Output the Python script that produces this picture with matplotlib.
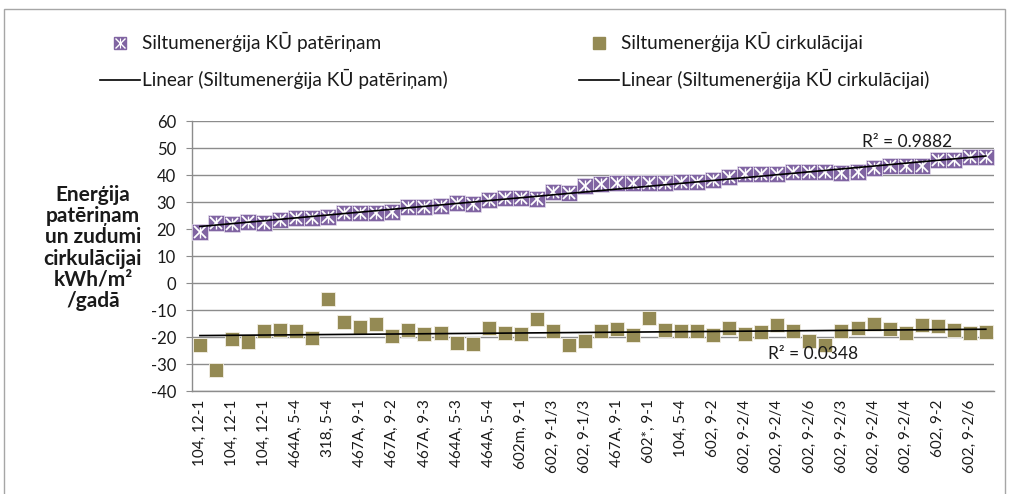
import matplotlib.pyplot as plt
import numpy as np
from matplotlib.lines import Line2D
from matplotlib.patches import Rectangle

plt.rcParams['font.family'] = ['Lato', 'DejaVu Sans']
plt.rcParams['axes.unicode_minus'] = False

# category labels (only every second category is labelled on the axis)
tick_labels = ['104, 12-1', '104, 12-1', '104, 12-1', '464A, 5-4', '318, 5-4',
               '467A, 9-1', '467A, 9-2', '467A, 9-3', '464A, 5-3', '464A, 5-4',
               '602m, 9-1', '602, 9-1/3', '602, 9-1/3', '467A, 9-1', '602*, 9-1',
               '104, 5-4', '602, 9-2', '602, 9-2/4', '602, 9-2/4', '602, 9-2/6',
               '602, 9-2/3', '602, 9-2/4', '602, 9-2/4', '602, 9-2', '602, 9-2/6']

# Siltumenergija KU paterinam
consumption = [19.0, 22.1, 21.7, 22.7, 22.3, 23.3, 24.2, 24.2, 24.5, 26.0,
               26.0, 25.8, 26.3, 28.2, 28.2, 28.5, 29.8, 29.1, 30.7, 31.5,
               31.5, 31.2, 33.6, 33.4, 35.9, 36.5, 37.1, 37.1, 37.1, 37.1,
               37.3, 37.3, 38.3, 39.4, 40.2, 40.2, 40.2, 41.1, 41.1, 41.1,
               40.8, 41.1, 42.6, 43.2, 43.2, 43.2, 45.7, 45.4, 46.7, 46.7]

# Siltumenergija KU cirkulacijai
circulation = [-23.1, -32.3, -20.9, -21.7, -17.9, -17.4, -17.8, -20.2, -6.0, -14.3,
               -16.3, -15.3, -19.6, -17.5, -18.8, -18.6, -22.3, -22.7, -16.8, -18.4,
               -18.8, -13.5, -17.8, -23.1, -21.5, -17.8, -17.2, -19.3, -13.1, -17.4,
               -17.8, -17.8, -19.4, -16.5, -18.8, -18.1, -15.6, -17.8, -21.5, -23.1,
               -17.8, -16.8, -15.3, -17.2, -18.4, -15.6, -15.9, -17.4, -18.4, -18.1]

r2_labels = ['R\u00b2 = 0.9882', 'R\u00b2 = 0.0348']

purple = '#8064A2'
olive = '#948A54'
grid_col = '#8c8c8c'
text_col = '#1a1a1a'

x = np.arange(len(consumption))

fig = plt.figure(figsize=(10.1, 4.94), dpi=100)
ax = fig.add_axes([0.190, 0.2085, 0.794, 0.5465])

# markers
ax.plot(x, consumption, ls='none', marker='s', ms=11.5, mfc=purple,
        mec='#e6e0ee', mew=0.5, zorder=3)
ax.plot(x, consumption, ls='none', marker='x', ms=8.5, mec='white', mew=1.3, zorder=4)
ax.plot(x, consumption, ls='none', marker='|', ms=9, mec='white', mew=1.0, zorder=4)
ax.plot(x, circulation, ls='none', marker='s', ms=10, mfc=olive,
        mec='#f3f0e6', mew=0.6, zorder=3)

# linear trend lines
k1, b1 = np.polyfit(x, consumption, 1)
k2, b2 = np.polyfit(x, circulation, 1)
ax.plot(x[[0, -1]], k1 * x[[0, -1]] + b1, color='black', lw=1.2, zorder=5)
ax.plot(x[[0, -1]], k2 * x[[0, -1]] + b2, color='black', lw=1.2, zorder=5)

ax.text(41.3, 52.4, r2_labels[0], fontsize=12.5, color=text_col, va='center')
ax.text(35.4, -26.3, r2_labels[1], fontsize=12.5, color=text_col, va='center')

ax.set_xlim(-0.5, len(consumption) - 0.5)
ax.set_ylim(-40, 60)
ax.set_yticks(np.arange(-40, 61, 10))
ax.yaxis.grid(True, color=grid_col, lw=1.0)
ax.set_axisbelow(True)

ax.set_xticks(x[::2])
ax.set_xticklabels(tick_labels, rotation=90, fontsize=11, color=text_col)
ax.tick_params(axis='x', length=0, pad=6)
ax.tick_params(axis='y', length=4, color=grid_col, labelsize=12,
               labelcolor=text_col, pad=7.5)

for s in ['top', 'right']:
    ax.spines[s].set_visible(False)
for s in ['left', 'bottom']:
    ax.spines[s].set_color(grid_col)
    ax.spines[s].set_linewidth(1.0)

fig.text(0.092, 0.498, 'Enerģija\npatēriņam\nun zudumi\ncirkulācijai\nkWh/m\u00b2\n/gadā',
         ha='center', va='center', fontsize=15, fontweight='bold',
         color=text_col, linespacing=1.08)

# legend
h_purple = (Line2D([], [], ls='none', marker='s', ms=9, mfc=purple, mec=purple),
            Line2D([], [], ls='none', marker='x', ms=7, mec='white', mew=1.0),
            Line2D([], [], ls='none', marker='|', ms=7, mec='white', mew=0.8))
h_olive = Line2D([], [], ls='none', marker='s', ms=8, mfc=olive, mec=olive)
h_line = Line2D([], [], color='black', lw=1.2)
fig.legend([h_purple, h_line, h_olive, h_line],
           ['Siltumenerģija KŪ patēriņam', 'Linear (Siltumenerģija KŪ patēriņam)',
            'Siltumenerģija KŪ cirkulācijai', 'Linear (Siltumenerģija KŪ cirkulācijai)'],
           ncol=2, loc='upper left', bbox_to_anchor=(0.099, 0.935), frameon=False,
           fontsize=13.7, handlelength=2.1, handletextpad=0.1, columnspacing=6.9,
           labelspacing=0.9, borderpad=0, borderaxespad=0, labelcolor=text_col)

# outer chart frame
fig.patches.append(Rectangle((0.004, -0.01), 0.991, 0.992, transform=fig.transFigure,
                             fill=False, ec='#a6a6a6', lw=1.0))

fig.savefig('out.png', dpi=100)
